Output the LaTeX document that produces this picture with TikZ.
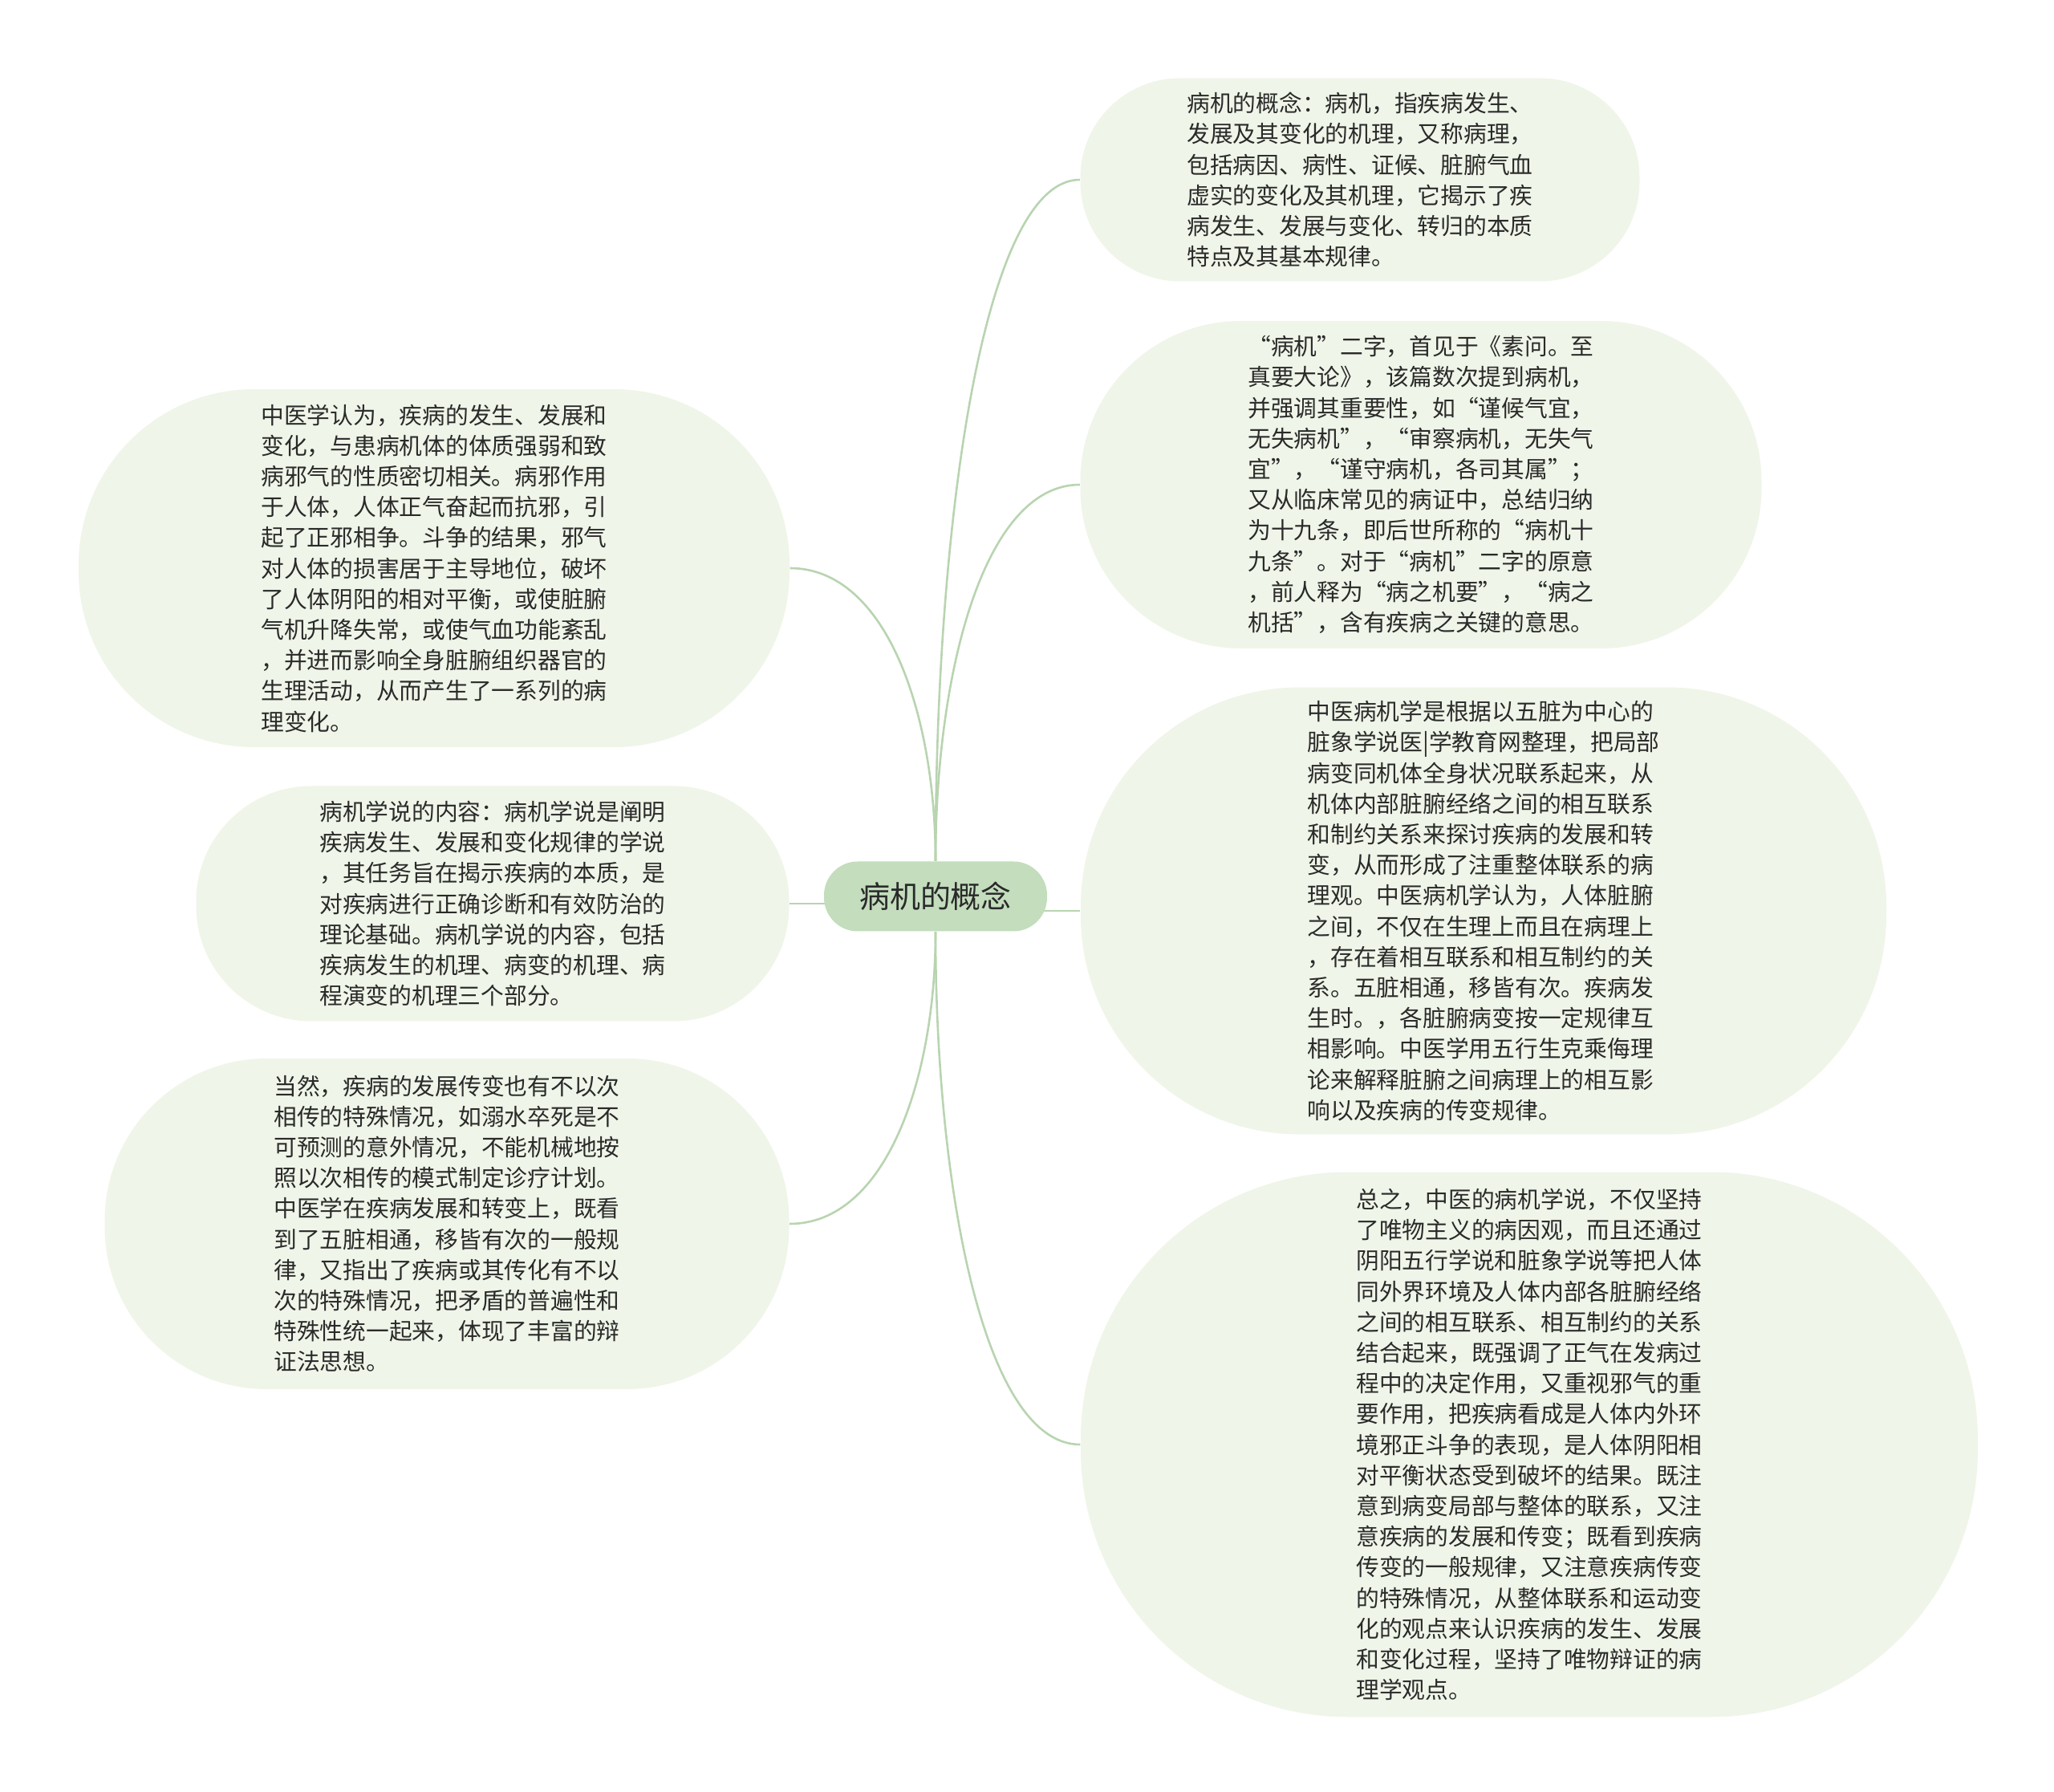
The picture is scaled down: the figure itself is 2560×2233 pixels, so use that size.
\documentclass[tikz,border=0pt]{standalone}
\usepackage{fontspec}
\newfontfamily\cjk{Noto Sans CJK SC}
\usetikzlibrary{backgrounds}

\definecolor{leafgreen}{HTML}{EFF5E8}
\definecolor{rootgreen}{HTML}{C3DDBD}
\definecolor{linkgreen}{HTML}{B8D4B0}
\definecolor{inkgray}{HTML}{2A2A2A}

\tikzset{
  bubble/.style 2 args={fill=leafgreen, minimum width=#1mm, minimum height=#2mm,
    rounded corners=0.49*#2mm, inner sep=0pt, align=left, text=inkgray,
    font=\cjk\fontsize{8.18pt}{10.87pt}\selectfont},
  rootbox/.style={fill=rootgreen, minimum width=27.8mm, minimum height=8.7mm,
    rounded corners=4.2mm, inner sep=0pt, text=inkgray,
    font=\cjk\fontsize{10.8pt}{13pt}\selectfont},
  link/.style={draw=linkgreen, line width=0.26mm},
}

\begin{document}
\begin{tikzpicture}[x=0.1mm, y=-0.1mm]
	\useasboundingbox (0,0) rectangle (2560,2233);
	% root
	\node[rootbox] (root) at (1166,1117) {病机的概念};
	% right side
	\node[bubble={69.7}{25.3}] (r1) at (1695,224) {病机的概念：病机，指疾病发生、\\
发展及其变化的机理，又称病理，\\
包括病因、病性、证候、脏腑气血\\
虚实的变化及其机理，它揭示了疾\\
病发生、发展与变化、转归的本质\\
特点及其基本规律。};
	\node[bubble={84.9}{40.8}] (r2) at (1771,604) {“病机”二字，首见于《素问。至\\
真要大论》，该篇数次提到病机，\\
并强调其重要性，如“谨候气宜，\\
无失病机”，“审察病机，无失气\\
宜”，“谨守病机，各司其属”；\\
又从临床常见的病证中，总结归纳\\
为十九条，即后世所称的“病机十\\
九条”。对于“病机”二字的原意\\
，前人释为“病之机要”，“病之\\
机括”，含有疾病之关键的意思。};
	\node[bubble={100.4}{55.7}] (r3) at (1849,1135) {中医病机学是根据以五脏为中心的\\
脏象学说医|学教育网整理，把局部\\
病变同机体全身状况联系起来，从\\
机体内部脏腑经络之间的相互联系\\
和制约关系来探讨疾病的发展和转\\
变，从而形成了注重整体联系的病\\
理观。中医病机学认为，人体脏腑\\
之间，不仅在生理上而且在病理上\\
，存在着相互联系和相互制约的关\\
系。五脏相通，移皆有次。疾病发\\
生时。，各脏腑病变按一定规律互\\
相影响。中医学用五行生克乘侮理\\
论来解释脏腑之间病理上的相互影\\
响以及疾病的传变规律。};
	\node[bubble={111.8}{67.9}] (r4) at (1906,1800) {总之，中医的病机学说，不仅坚持\\
了唯物主义的病因观，而且还通过\\
阴阳五行学说和脏象学说等把人体\\
同外界环境及人体内部各脏腑经络\\
之间的相互联系、相互制约的关系\\
结合起来，既强调了正气在发病过\\
程中的决定作用，又重视邪气的重\\
要作用，把疾病看成是人体内外环\\
境邪正斗争的表现，是人体阴阳相\\
对平衡状态受到破坏的结果。既注\\
意到病变局部与整体的联系，又注\\
意疾病的发展和传变；既看到疾病\\
传变的一般规律，又注意疾病传变\\
的特殊情况，从整体联系和运动变\\
化的观点来认识疾病的发生、发展\\
和变化过程，坚持了唯物辩证的病\\
理学观点。};
	% left side
	\node[bubble={88.6}{44.6}] (l1) at (541,708) {中医学认为，疾病的发生、发展和\\
变化，与患病机体的体质强弱和致\\
病邪气的性质密切相关。病邪作用\\
于人体，人体正气奋起而抗邪，引\\
起了正邪相争。斗争的结果，邪气\\
对人体的损害居于主导地位，破坏\\
了人体阴阳的相对平衡，或使脏腑\\
气机升降失常，或使气血功能紊乱\\
，并进而影响全身脏腑组织器官的\\
生理活动，从而产生了一系列的病\\
理变化。};
	\node[bubble={73.9}{29.3}] (l2) at (614,1126) {病机学说的内容：病机学说是阐明\\
疾病发生、发展和变化规律的学说\\
，其任务旨在揭示疾病的本质，是\\
对疾病进行正确诊断和有效防治的\\
理论基础。病机学说的内容，包括\\
疾病发生的机理、病变的机理、病\\
程演变的机理三个部分。};
	\node[bubble={85.3}{41.2}] (l3) at (557,1525) {当然，疾病的发展传变也有不以次\\
相传的特殊情况，如溺水卒死是不\\
可预测的意外情况，不能机械地按\\
照以次相传的模式制定诊疗计划。\\
中医学在疾病发展和转变上，既看\\
到了五脏相通，移皆有次的一般规\\
律，又指出了疾病或其传化有不以\\
次的特殊情况，把矛盾的普遍性和\\
特殊性统一起来，体现了丰富的辩\\
证法思想。};
	% branches
	\begin{scope}[on background layer]
		\draw[link] (root.north) .. controls +(0,-425) and +(-120,0) .. (r1.west);
		\draw[link] (root.north) .. controls +(0,-233) and +(-120,0) .. (r2.west);
		\draw[link] (root.north) .. controls +(0,-183) and +(120,0) .. (l1.east);
		\draw[link] (root.center |- r3.west) -- (r3.west);
		\draw[link] (root.center |- l2.east) -- (l2.east);
		\draw[link] (root.south) .. controls +(0,320) and +(-120,0) .. (r4.west);
		\draw[link] (root.south) .. controls +(0,183) and +(120,0) .. (l3.east);
	\end{scope}
\end{tikzpicture}
\end{document}
